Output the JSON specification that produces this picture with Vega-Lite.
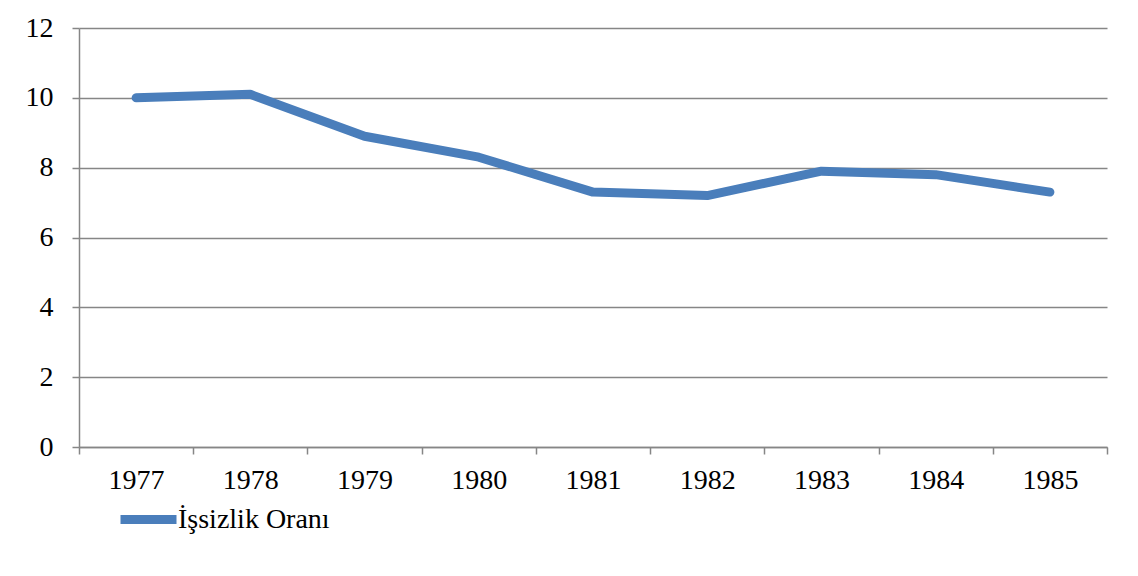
{
  "$schema": "https://vega.github.io/schema/vega-lite/v6.json",
  "width": 1028,
  "height": 419,
  "autosize": {"type": "none"},
  "padding": {"left": 79, "top": 28, "right": 31, "bottom": 129},
  "background": "white",
  "config": {"view": {"stroke": null}, "font": "Liberation Serif"},
  "data": {"values": [
    {"year": "1977", "value": 10.0, "series": "İşsizlik Oranı"},
    {"year": "1978", "value": 10.1, "series": "İşsizlik Oranı"},
    {"year": "1979", "value": 8.9, "series": "İşsizlik Oranı"},
    {"year": "1980", "value": 8.3, "series": "İşsizlik Oranı"},
    {"year": "1981", "value": 7.3, "series": "İşsizlik Oranı"},
    {"year": "1982", "value": 7.2, "series": "İşsizlik Oranı"},
    {"year": "1983", "value": 7.9, "series": "İşsizlik Oranı"},
    {"year": "1984", "value": 7.8, "series": "İşsizlik Oranı"},
    {"year": "1985", "value": 7.3, "series": "İşsizlik Oranı"}
  ]},
  "mark": {"type": "line", "strokeWidth": 9, "strokeCap": "round", "strokeJoin": "round"},
  "encoding": {
    "x": {
      "field": "year", "type": "ordinal", "title": null,
      "scale": {"type": "band", "paddingInner": 0, "paddingOuter": 0},
      "axis": {
        "tickBand": "extent", "labelAngle": 0, "labelFont": "Liberation Serif", "labelFontSize": 28,
        "labelColor": "#000000", "labelPadding": 12, "domainColor": "#868686", "tickColor": "#868686",
        "tickSize": 7, "domainWidth": 1.5, "tickWidth": 1.5, "grid": false
      }
    },
    "y": {
      "field": "value", "type": "quantitative", "title": null,
      "scale": {"domain": [0, 12], "nice": false},
      "axis": {
        "values": [0, 2, 4, 6, 8, 10, 12], "labelFont": "Liberation Serif", "labelFontSize": 28,
        "labelColor": "#000000", "labelPadding": 19, "domainColor": "#868686", "tickColor": "#868686",
        "tickSize": 7, "domainWidth": 1.5, "tickWidth": 1.5, "grid": true, "gridColor": "#868686", "gridWidth": 1.5
      }
    },
    "color": {
      "field": "series", "type": "nominal", "title": null,
      "scale": {"range": ["#4a7ebb"]},
      "legend": {
        "orient": "none", "legendX": 37, "legendY": 459,
        "symbolType": "stroke", "symbolSize": 3136, "symbolStrokeWidth": 9,
        "labelFont": "Liberation Serif", "labelFontSize": 28, "labelColor": "#000000", "labelOffset": -3,
        "symbolOffset": 0
      }
    }
  }
}
